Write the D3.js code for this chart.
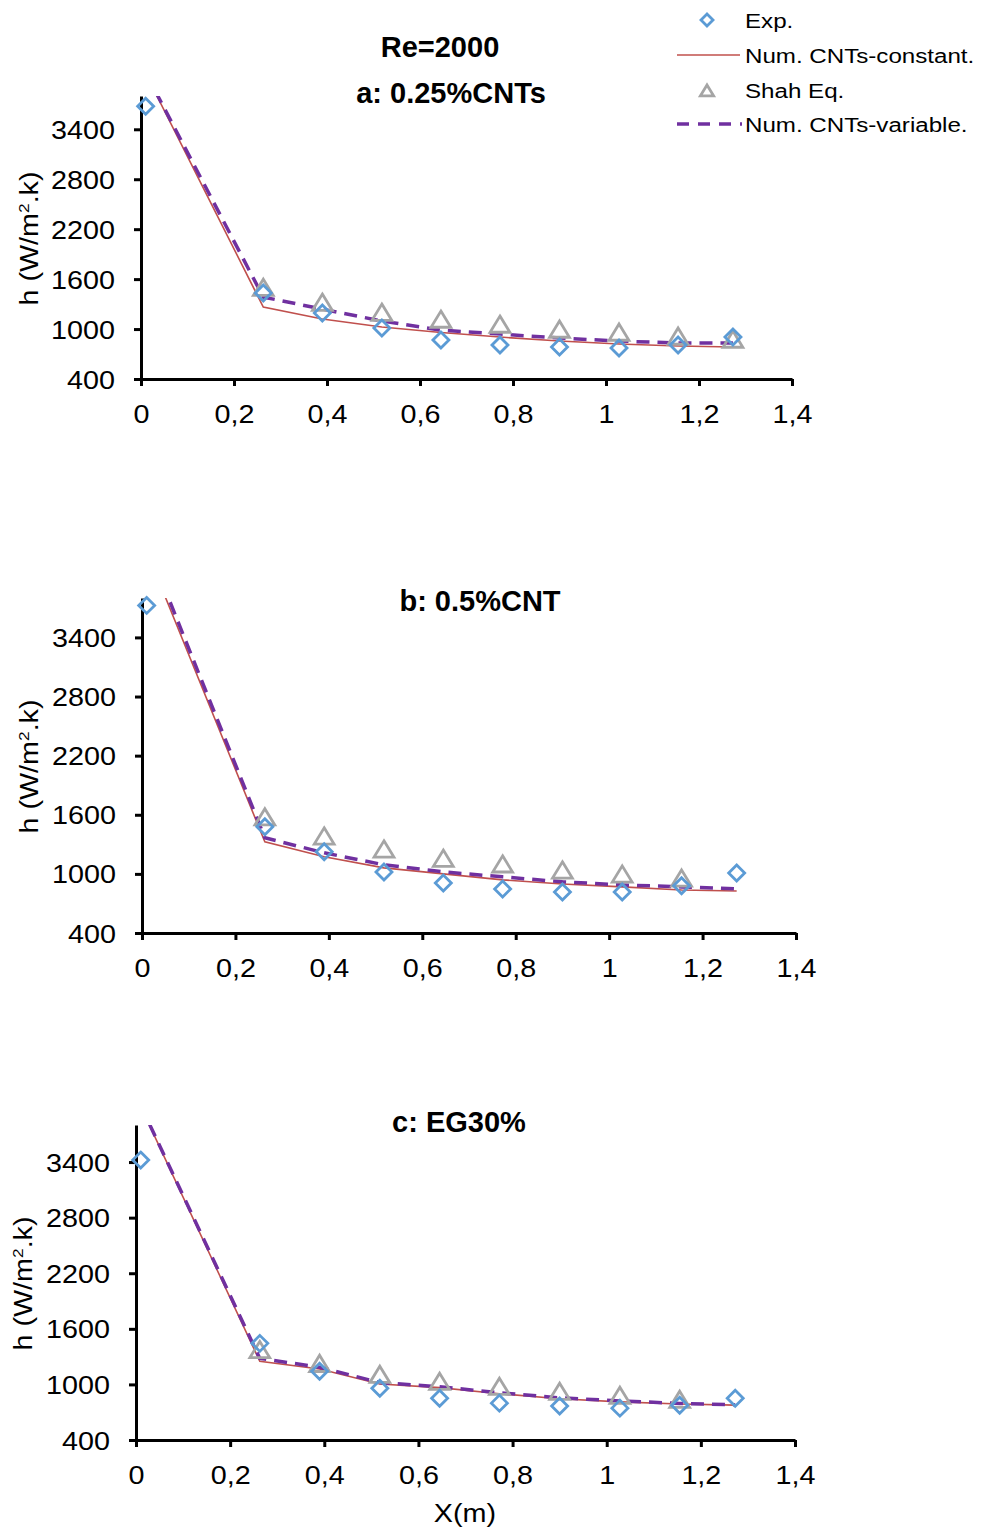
<!DOCTYPE html>
<html>
<head>
<meta charset="utf-8">
<script src="https://cdn.jsdelivr.net/npm/d3@7"></script>
<style>
  body { margin: 0; background: #fff; }
  svg { display: block; font-family: "Liberation Sans", Arial, sans-serif; }
</style>
</head>
<body>
<div id="chart-area"></div>
<script>
// x positions along the tube (m)
var xPos = [0.01, 0.263, 0.39, 0.518, 0.645, 0.772, 0.9, 1.028, 1.155, 1.273];
var xTicks = [0, 0.2, 0.4, 0.6, 0.8, 1, 1.2, 1.4];
var yTicks = [400, 1000, 1600, 2200, 2800, 3400];

// panel a: 0.25%CNTs
var expA = [3676, 1432, 1192, 1012, 868, 808, 784, 772, 808, 904];
var shahA = [null, 1490, 1312, 1192, 1108, 1048, 988, 952, 904, 868];
var constA = [4070, 1264, 1120, 1024, 958, 904, 856, 820, 796, 784];
var varA = [4080, 1384, 1240, 1096, 988, 940, 892, 856, 832, 832];

// panel b: 0.5%CNT
var expB = [3725, 1478, 1224, 1020, 908, 847, 817, 817, 880, 1010];
var shahB = [null, 1570, 1376, 1244, 1150, 1092, 1031, 990, 949, null];
var constB = [4275, 1325, 1173, 1061, 1000, 939, 898, 868, 837, 827];
var varB = [4350, 1366, 1214, 1092, 1020, 970, 919, 888, 868, 847];

// panel c: EG30%
var expC = [3421, 1443, 1142, 959, 851, 798, 766, 744, 776, 851];
var shahC = [null, 1367, 1217, 1099, 1024, 970, 916, 873, 830, null];
var constC = [4000, 1249, 1167, 1004, 965, 900, 845, 812, 788, 776];
var varC = [4010, 1281, 1185, 1020, 975, 910, 855, 822, 795, 780];

var panels = [
    { id: "a", title: "a: 0.25%CNTs", tx: 451, ty: 103, x0: 141, x1: 792, yb: 379, yt: 96, lx: 38,
      exp: expA, shah: shahA, cst: constA, vr: varA },
    { id: "b", title: "b: 0.5%CNT", tx: 480, ty: 611, x0: 142, x1: 796, yb: 933, yt: 598, lx: 38,
      exp: expB, shah: shahB, cst: constB, vr: varB },
    { id: "c", title: "c: EG30%", tx: 459, ty: 1132, x0: 136, x1: 795, yb: 1440, yt: 1125, lx: 32,
      exp: expC, shah: shahC, cst: constC, vr: varC }
];

var colExp = "#5B9BD5", colShah = "#A5A5A5", colConst = "#C0504D", colVar = "#7030A0";
var sx = 1.15; // text in the picture is a bit wide

var width = 984, height = 1533;
var svg = d3.select("#chart-area").append("svg")
    .attr("width", width)
    .attr("height", height);

var fmtX = function(d){ return d3.format(".1~f")(d).replace(".", ","); };

function diamond(r){
    return "M0," + (-r) + "L" + r + ",0L0," + r + "L" + (-r) + ",0Z";
}
function triangle(r){
    return "M0," + (-r) + "L" + (r * 1.1) + "," + (r * 0.8) + "L" + (-r * 1.1) + "," + (r * 0.8) + "Z";
}

panels.forEach(function(p){
    var x = d3.scaleLinear().domain([0, 1.4]).range([p.x0, p.x1]);
    var y = d3.scaleLinear().domain([400, 3800]).range([p.yb, p.yt]);

    var g = svg.append("g").attr("class", "panel-" + p.id);

    g.append("clipPath").attr("id", "clip-" + p.id)
      .append("rect")
        .attr("x", p.x0).attr("y", p.yt)
        .attr("width", p.x1 - p.x0).attr("height", p.yb - p.yt);

    // axes
    var yAxis = g.append("g")
        .attr("transform", "translate(" + p.x0 + ",0)")
        .call(d3.axisLeft(y).tickValues(yTicks).tickSize(7).tickSizeOuter(0).tickFormat(d3.format("d")));
    var xAxis = g.append("g")
        .attr("transform", "translate(0," + p.yb + ")")
        .call(d3.axisBottom(x).tickValues(xTicks).tickSize(7).tickSizeOuter(0).tickFormat(fmtX));

    [yAxis, xAxis].forEach(function(a){
        a.select(".domain").attr("stroke", "#000").attr("stroke-width", 3);
        a.selectAll(".tick line").attr("stroke", "#000").attr("stroke-width", 3);
        a.selectAll(".tick text")
            .attr("fill", "#000")
            .style("font-size", "25px")
            .style("font-family", "'Liberation Sans', Arial, sans-serif");
    });
    yAxis.selectAll(".tick text")
        .attr("x", -26 / sx)
        .attr("dy", "0.36em")
        .attr("transform", "scale(" + sx + ",1)");
    xAxis.selectAll(".tick text")
        .attr("y", 44)
        .attr("dy", 0)
        .attr("transform", "scale(" + sx + ",1)");

    // y label
    var yl = g.append("text")
        .attr("transform", "translate(" + p.lx + "," + ((p.yb + p.yt) / 2 + 1) + ") rotate(-90) scale(" + sx + ",1)")
        .attr("text-anchor", "middle")
        .style("font-size", "25px")
        .attr("fill", "#000");
    yl.append("tspan").text("h (W/m");
    yl.append("tspan").attr("dy", -9).style("font-size", "15px").text("2");
    yl.append("tspan").attr("dy", 9).text(".k)");

    // title
    g.append("text")
        .attr("x", p.tx).attr("y", p.ty)
        .attr("text-anchor", "middle")
        .style("font-size", "29px")
        .style("font-weight", "bold")
        .text(p.title);

    var plot = g.append("g").attr("clip-path", "url(#clip-" + p.id + ")");

    var line = function(vals){
        return d3.line()
            .defined(function(d){ return d != null; })
            .x(function(d, i){ return x(xPos[i]); })
            .y(function(d){ return y(d); })(vals);
    };

    plot.append("path")
        .attr("d", line(p.cst))
        .attr("fill", "none")
        .attr("stroke", colConst)
        .attr("stroke-width", 1.6);

    plot.append("path")
        .attr("d", line(p.vr))
        .attr("fill", "none")
        .attr("stroke", colVar)
        .attr("stroke-width", 3.5)
        .attr("stroke-dasharray", "13,8");

    // Shah markers
    g.selectAll(".shah")
        .data(p.shah.map(function(v, i){ return { x: xPos[i], v: v }; }).filter(function(d){ return d.v != null; }))
      .enter().append("path")
        .attr("class", "shah")
        .attr("transform", function(d){ return "translate(" + x(d.x) + "," + y(d.v) + ")"; })
        .attr("d", triangle(9))
        .attr("fill", "none")
        .attr("stroke", colShah)
        .attr("stroke-width", 2.8);

    // Exp markers
    g.selectAll(".exp")
        .data(p.exp.map(function(v, i){ return { x: xPos[i], v: v }; }))
      .enter().append("path")
        .attr("class", "exp")
        .attr("transform", function(d){ return "translate(" + x(d.x) + "," + y(d.v) + ")"; })
        .attr("d", diamond(8))
        .attr("fill", "none")
        .attr("stroke", colExp)
        .attr("stroke-width", 2.8);
});

// top title and x label
svg.append("text")
    .attr("x", 440).attr("y", 57)
    .attr("text-anchor", "middle")
    .style("font-size", "29px")
    .style("font-weight", "bold")
    .text("Re=2000");

svg.append("text")
    .attr("transform", "translate(465,1522) scale(" + sx + ",1)")
    .attr("text-anchor", "middle")
    .style("font-size", "25px")
    .text("X(m)");

// legend
var legend = svg.append("g").attr("class", "legend");
var legItems = ["Exp.", "Num. CNTs-constant.", "Shah Eq.", "Num. CNTs-variable."];
var legY = [20, 55, 90, 124];

legItems.forEach(function(name, i){
    var row = legend.append("g").attr("transform", "translate(0," + legY[i] + ")");
    if (i == 0) {
        row.append("path").attr("transform", "translate(707,0)")
            .attr("d", diamond(6)).attr("fill", "none")
            .attr("stroke", colExp).attr("stroke-width", 2.8);
    } else if (i == 1) {
        row.append("line").attr("x1", 677).attr("x2", 740)
            .attr("stroke", colConst).attr("stroke-width", 1.6);
    } else if (i == 2) {
        row.append("path").attr("transform", "translate(707,1)")
            .attr("d", triangle(6)).attr("fill", "none")
            .attr("stroke", colShah).attr("stroke-width", 2.8);
    } else {
        row.append("line").attr("x1", 677).attr("x2", 742)
            .attr("stroke", colVar).attr("stroke-width", 3.5)
            .attr("stroke-dasharray", "12,9");
    }
    row.append("text")
        .attr("transform", "translate(745,8) scale(" + sx + ",1)")
        .style("font-size", "21px")
        .attr("fill", "#000")
        .text(name);
});
</script>
</body>
</html>
